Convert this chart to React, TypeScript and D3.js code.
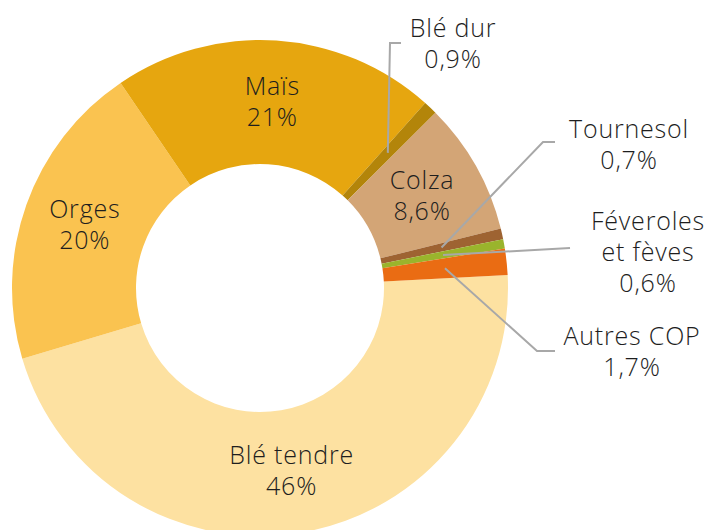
import React, { useEffect, useRef } from "react";
import * as d3 from "d3";

// parts of the COP area (%)
const cultures = ["Blé tendre", "Orges", "Maïs", "Blé dur", "Colza", "Tournesol", "Féveroles et fèves", "Autres COP"];
const shares = [46, 20, 21, 0.9, 8.6, 0.7, 0.6, 1.7];
const shareLabels = ["46%", "20%", "21%", "0,9%", "8,6%", "0,7%", "0,6%", "1,7%"];
const labelLines = [["Blé tendre"], ["Orges"], ["Maïs"], ["Blé dur"], ["Colza"], ["Tournesol"], ["Féveroles", "et fèves"], ["Autres COP"]];
const colors = ["#FDE1A1", "#FAC350", "#E6A60F", "#B3850A", "#D3A576", "#9E6332", "#9AB42C", "#EA6C13"];
// slices too thin to hold their label
const outside = ["Blé dur", "Tournesol", "Féveroles et fèves", "Autres COP"];

const W = 714;
const H = 530;

export default function App() {
  const svgRef = useRef<SVGSVGElement>(null);

  useEffect(() => {
    const svg = d3.select(svgRef.current);
    svg.selectAll("*").remove();

    const cx = 260, cy = 288;
    const rOut = 248, rIn = 124;
    const lineH = 31;

    const data = cultures.map((name, i) => ({ name, value: shares[i], pct: shareLabels[i], lines: labelLines[i], color: colors[i] }));

    const start = (87 * Math.PI) / 180;
    const pie = d3.pie<any>().sort(null).value((d) => d.value).startAngle(start).endAngle(start + 2 * Math.PI);
    const arc = d3.arc<any>().innerRadius(rIn).outerRadius(rOut);
    const arcs = pie(data);

    const g = svg.append("g").attr("transform", `translate(${cx},${cy})`);

    g.selectAll("path.slice")
      .data(arcs)
      .enter()
      .append("path")
      .attr("class", "slice")
      .attr("d", arc)
      .attr("fill", (d) => d.data.color);

    const label = (sel: any) =>
      sel.append("text")
        .attr("text-anchor", "middle")
        .attr("font-family", "'Open Sans', sans-serif")
        .attr("font-size", 25)
        .attr("font-weight", 300)
        .attr("letter-spacing", 0.8)
        .attr("fill", "#1e1e1e");

    // labels inside the ring
    arcs.filter((a) => !outside.includes(a.data.name)).forEach((a) => {
      const [x, y] = arc.centroid(a);
      const lines = [...a.data.lines, a.data.pct];
      const t = label(g);
      lines.forEach((l, k) => {
        t.append("tspan")
          .attr("x", x)
          .attr("y", y + (k - (lines.length - 1) / 2) * lineH + 8)
          .text(l);
      });
    });

    // outside labels, with their leader lines (absolute page coords)
    const callouts: Record<string, { tx: number; ty: number; elbow: number[][] }> = {
      "Blé dur": { tx: 453, ty: 37, elbow: [[401, 43], [390, 43]] },
      "Tournesol": { tx: 629, ty: 138, elbow: [[555, 142], [543, 142]] },
      "Féveroles et fèves": { tx: 648, ty: 230, elbow: [[570, 248]] },
      "Autres COP": { tx: 632, ty: 345, elbow: [[555, 351], [537, 351]] },
    };

    arcs.filter((a) => outside.includes(a.data.name)).forEach((a) => {
      const c = callouts[a.data.name];
      const [x, y] = arc.centroid(a);
      const pts = [...c.elbow, [x + cx, y + cy]];
      svg.append("path")
        .attr("d", d3.line()(pts as [number, number][]))
        .attr("fill", "none")
        .attr("stroke", "#A8A8A8")
        .attr("stroke-width", 2);

      const lines = [...a.data.lines, a.data.pct];
      const t = label(svg);
      lines.forEach((l, k) => {
        t.append("tspan")
          .attr("x", c.tx)
          .attr("y", c.ty + k * lineH)
          .text(l);
      });
    });
  }, []);

  return (
    <svg
      ref={svgRef}
      width={W}
      height={H}
      style={{ position: "absolute", left: 0, top: 0, background: "#fff" }}
    />
  );
}
